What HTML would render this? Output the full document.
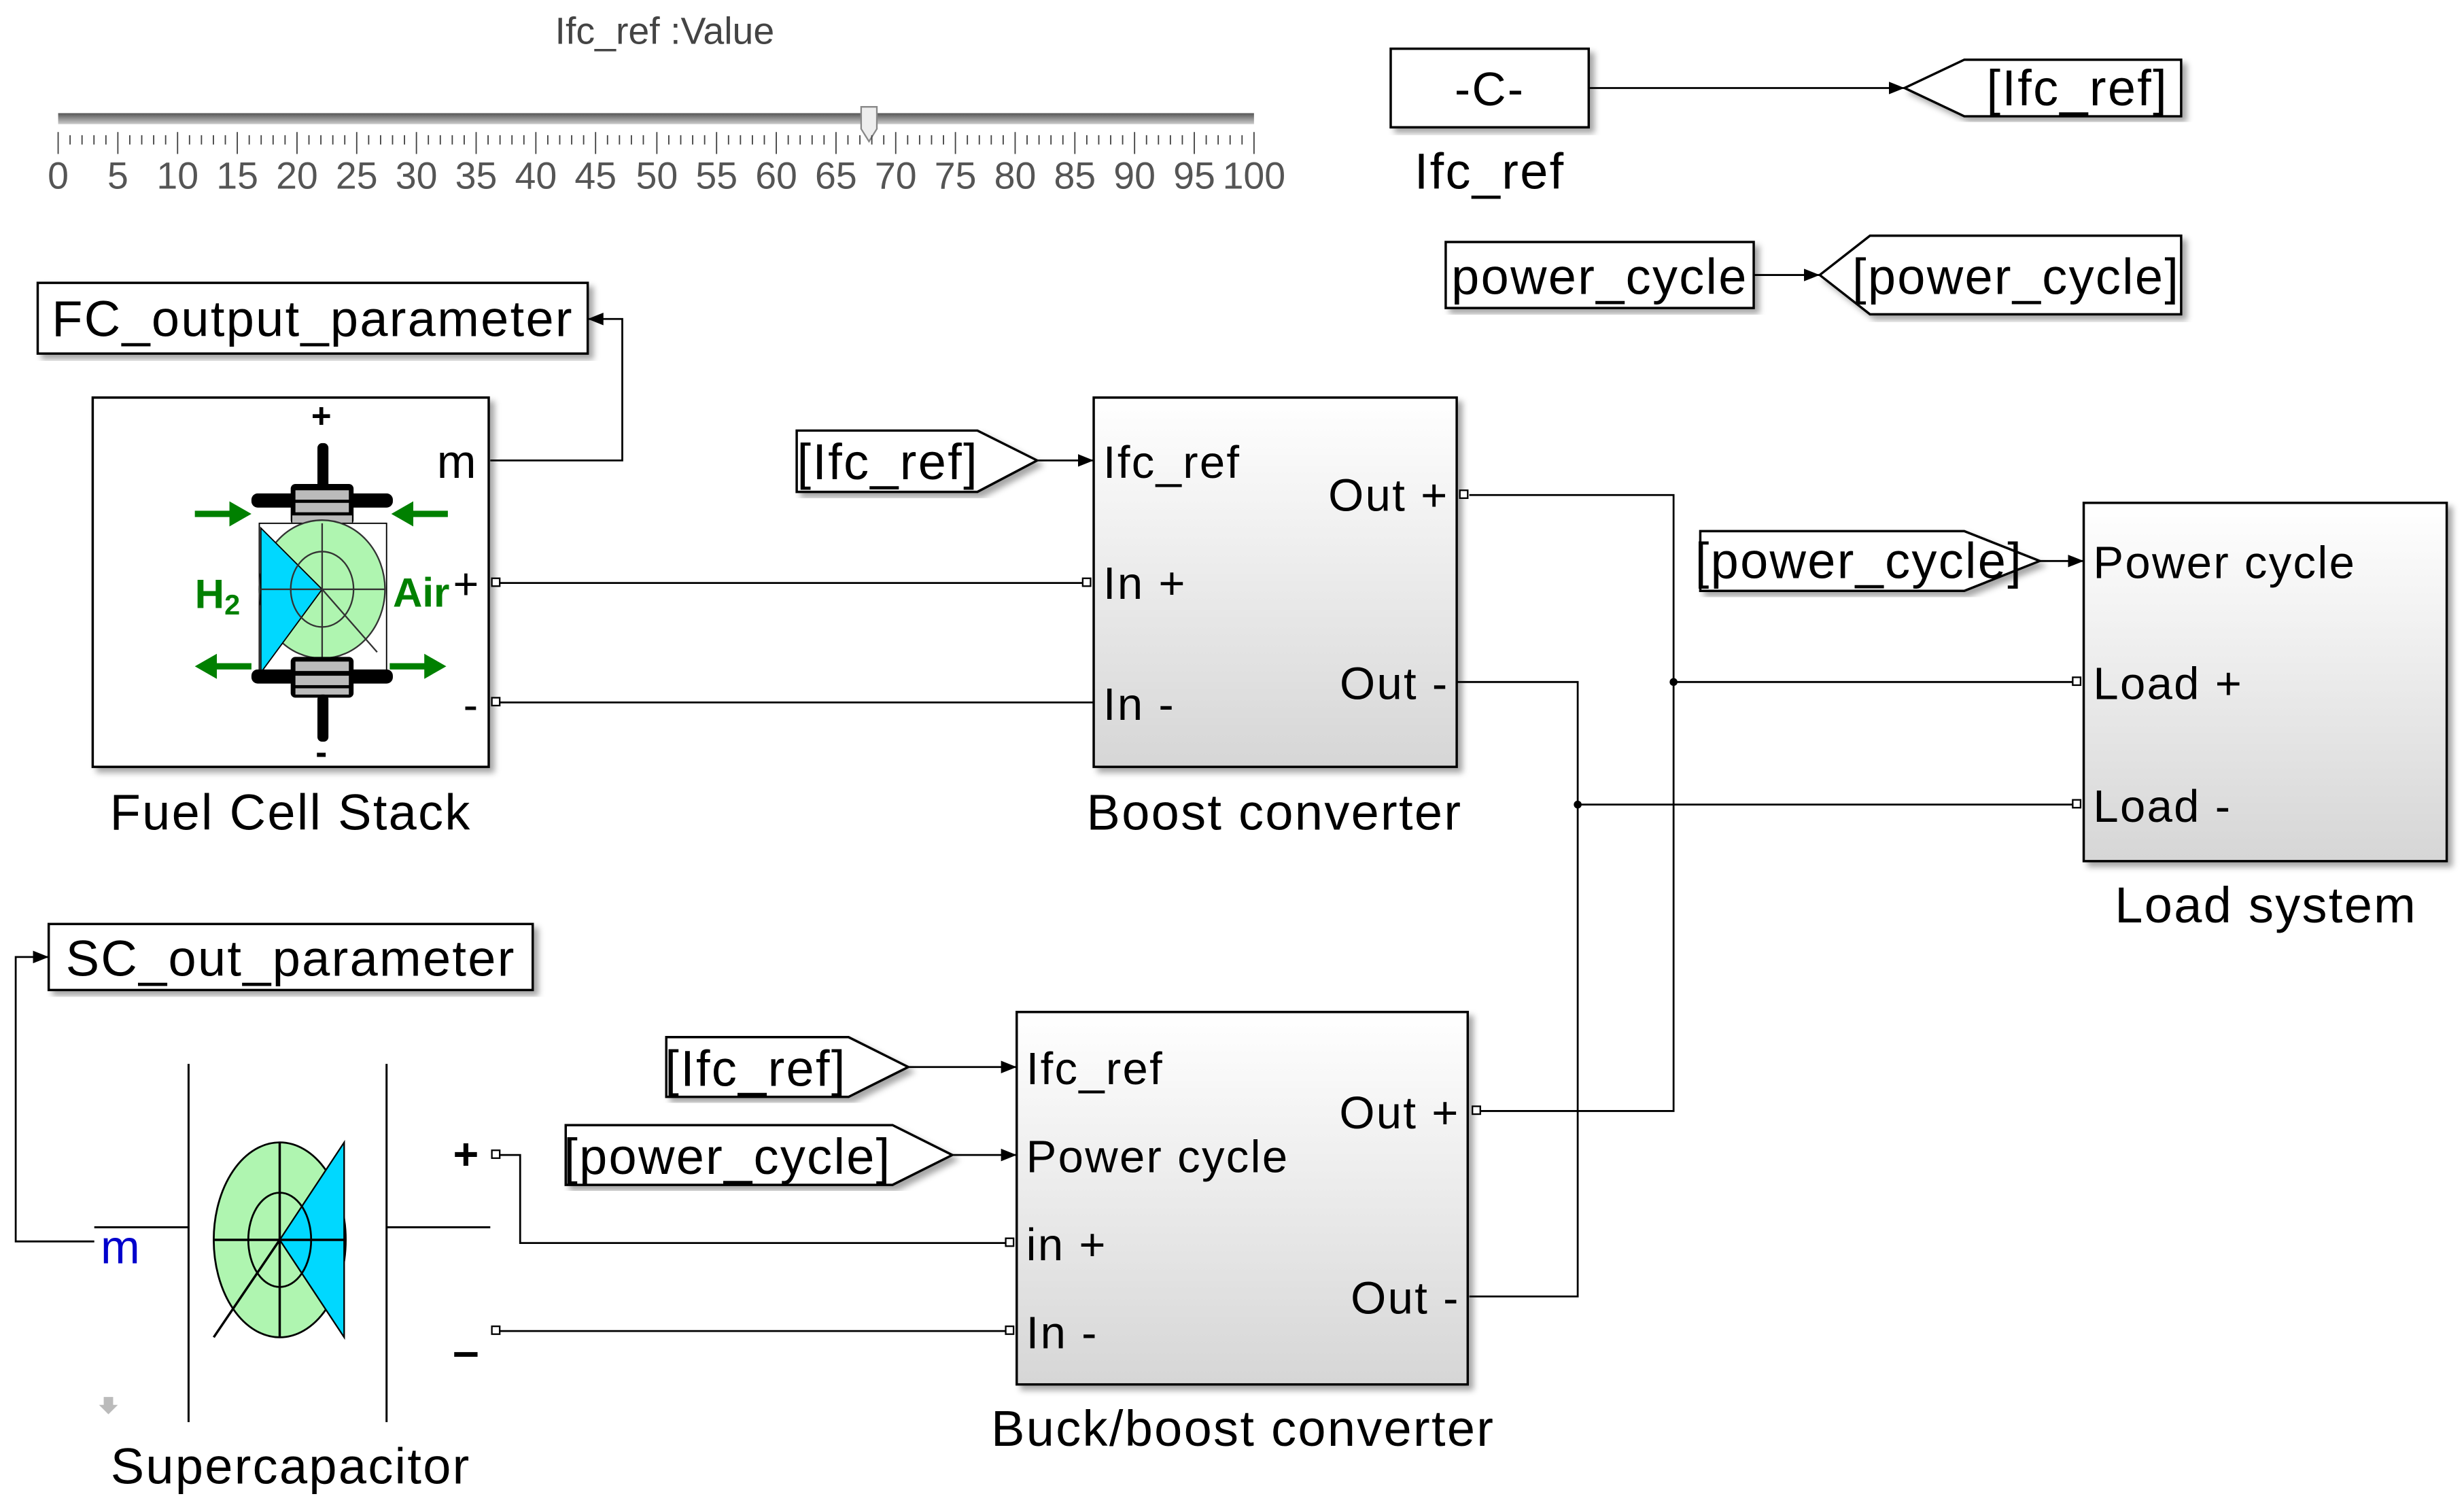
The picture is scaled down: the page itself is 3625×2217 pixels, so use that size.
<!DOCTYPE html>
<html><head><meta charset="utf-8"><style>
html,body{margin:0;padding:0;background:#fff;}
svg{display:block;}
text{font-family:"Liberation Sans",sans-serif;fill:#000;letter-spacing:1px;}
</style></head><body>
<svg width="3625" height="2217" viewBox="0 0 1568 959" preserveAspectRatio="none" xmlns="http://www.w3.org/2000/svg">
<defs>
<linearGradient id="bg" x1="0" y1="0" x2="0" y2="1"><stop offset="0" stop-color="#ffffff"/><stop offset="1" stop-color="#d6d6d6"/></linearGradient>
<linearGradient id="tr" x1="0" y1="0" x2="0" y2="1"><stop offset="0" stop-color="#555"/><stop offset="1" stop-color="#ccc"/></linearGradient>
<marker id="ar" markerWidth="10" markerHeight="8" refX="10" refY="4" orient="auto" markerUnits="userSpaceOnUse"><path d="M0,0 L10,4 L0,8 z" fill="#000"/></marker>
<filter id="sh" x="-5%" y="-5%" width="115%" height="115%"><feDropShadow dx="3" dy="3" stdDeviation="2" flood-color="#000" flood-opacity="0.35"/></filter>
</defs>

<!-- slider -->
<text x="423" y="28" font-size="24" text-anchor="middle" style="fill:#444;letter-spacing:0">Ifc_ref :Value</text>
<rect x="37" y="72" width="761" height="7" fill="url(#tr)"/>
<path d="M548,68 h10 v14 l-5,8 l-5,-8 z" fill="#eee" stroke="#888" stroke-width="1"/>

<!-- -C- -->
<rect x="885" y="31" width="126" height="50" fill="#fff" stroke="#000" stroke-width="1.5" filter="url(#sh)"/>
<text x="948" y="67" font-size="30" text-anchor="middle">-C-</text>
<text x="948" y="120" font-size="32" text-anchor="middle">Ifc_ref</text>
<path d="M1011,56 H1212" stroke="#000" stroke-width="1.2" marker-end="url(#ar)"/>
<path d="M1212,56 L1250,38 H1388 V74 H1250 Z" fill="#fff" stroke="#000" stroke-width="1.5" filter="url(#sh)"/>
<text x="1322" y="67" font-size="32" text-anchor="middle">[Ifc_ref]</text>

<rect x="920" y="154" width="196" height="42" fill="#fff" stroke="#000" stroke-width="1.5" filter="url(#sh)"/>
<text x="1018" y="187" font-size="32" text-anchor="middle">power_cycle</text>
<path d="M1116,175 H1158" stroke="#000" stroke-width="1.2" marker-end="url(#ar)"/>
<path d="M1158,175 L1190,150 H1388 V200 H1190 Z" fill="#fff" stroke="#000" stroke-width="1.5" filter="url(#sh)"/>
<text x="1283" y="187" font-size="32" text-anchor="middle">[power_cycle]</text>

<!-- FC output -->
<rect x="24" y="180" width="350" height="45" fill="#fff" stroke="#000" stroke-width="1.5" filter="url(#sh)"/>
<text x="199" y="214" font-size="32" text-anchor="middle">FC_output_parameter</text>
<path d="M312,293 H396 V203 H374" fill="none" stroke="#000" stroke-width="1.2" marker-end="url(#ar)"/>

<!-- Fuel cell -->
<rect x="59" y="253" width="252" height="235" fill="#fff" stroke="#000" stroke-width="1.5" filter="url(#sh)"/>
<text x="205" y="272" font-size="22" text-anchor="middle" font-weight="bold">+</text>
<text x="291" y="304" font-size="30" text-anchor="middle">m</text>
<text x="297" y="381" font-size="28" text-anchor="middle">+</text>
<text x="300" y="458" font-size="28" text-anchor="middle">-</text>
<text x="205" y="486" font-size="22" text-anchor="middle" font-weight="bold">-</text>
<g>
<rect x="202" y="282" width="7" height="30" rx="3" fill="#000"/>
<rect x="185" y="308" width="40" height="26" rx="3" fill="#000"/>
<rect x="160" y="314" width="90" height="9" rx="4" fill="#000"/>
<rect x="188" y="312" width="34" height="6" fill="#bbb"/><rect x="188" y="320" width="34" height="6" fill="#bbb"/><rect x="186" y="328" width="38" height="6" fill="#bbb"/>
<rect x="165" y="333" width="81" height="99" fill="#fff" stroke="#000" stroke-width="0.8"/>
<ellipse cx="205" cy="375" rx="40" ry="44" fill="#aff5b0" stroke="#333"/>
<path d="M166,336 L205,375 L166,428 Z" fill="#00d8ff" stroke="#000" stroke-width="0.8"/>
<ellipse cx="205" cy="375" rx="20" ry="24" fill="none" stroke="#333"/>
<path d="M166,375 H245 M205,333 V432 M205,375 L240,415" stroke="#333" stroke-width="1"/>
<rect x="185" y="418" width="40" height="26" rx="3" fill="#000"/>
<rect x="160" y="426" width="90" height="9" rx="4" fill="#000"/>
<rect x="188" y="421" width="34" height="6" fill="#bbb"/><rect x="188" y="430" width="34" height="6" fill="#bbb"/><rect x="188" y="438" width="34" height="4" fill="#bbb"/>
<rect x="202" y="442" width="7" height="30" rx="3" fill="#000"/>
<g fill="#008000">
<path d="M124,325 h22 v-6 l14,8 l-14,8 v-6 h-22z"/>
<path d="M285,325 h-22 v-6 l-14,8 l14,8 v-6 h22z"/>
<path d="M160,422 h-22 v-6 l-14,8 l14,8 v-6 h22z"/>
<path d="M248,422 h22 v-6 l14,8 l-14,8 v-6 h-22z"/>
</g>
<text x="124" y="387" font-size="26" font-weight="bold" style="fill:#008000;letter-spacing:0">H<tspan font-size="18" dy="4">2</tspan></text>
<text x="250" y="386" font-size="26" font-weight="bold" style="fill:#008000;letter-spacing:0">Air</text>
</g>
<text x="185" y="528" font-size="32" text-anchor="middle">Fuel Cell Stack</text>
<rect x="313" y="368" width="5" height="5" fill="#fff" stroke="#000"/>
<rect x="313" y="444" width="5" height="5" fill="#fff" stroke="#000"/>

<!-- Boost -->
<path d="M507,274 H622 L660,293 L622,313 H507 Z" fill="#fff" stroke="#000" stroke-width="1.5" filter="url(#sh)"/>
<text x="565" y="305" font-size="32" text-anchor="middle">[Ifc_ref]</text>
<path d="M660,293 H696" stroke="#000" stroke-width="1.2" marker-end="url(#ar)"/>
<rect x="696" y="253" width="231" height="235" fill="url(#bg)" stroke="#000" stroke-width="1.5" filter="url(#sh)"/>
<g font-size="29">
<text x="702" y="304">Ifc_ref</text><text x="702" y="381">In +</text><text x="702" y="458">In -</text>
<text x="922" y="325" text-anchor="end">Out +</text><text x="922" y="445" text-anchor="end">Out -</text>
</g>
<text x="811" y="528" font-size="32" text-anchor="middle">Boost converter</text>
<path d="M318,371 H690 M318,447 H696" stroke="#000" stroke-width="1.2"/>
<rect x="689" y="368" width="5" height="5" fill="#fff" stroke="#000"/>
<path d="M935,315 H1065 V707 H942 M927,434 H1004 V825 H935 M1065,434 H1320 M1004,512 H1320" fill="none" stroke="#000" stroke-width="1.2"/>
<circle cx="1065" cy="434" r="2.5"/><circle cx="1004" cy="512" r="2.5"/>
<rect x="929" y="312" width="5" height="5" fill="#fff" stroke="#000"/>

<!-- Load system -->
<path d="M1082,338 H1250 L1298,357 L1250,376 H1082 Z" fill="#fff" stroke="#000" stroke-width="1.5" filter="url(#sh)"/>
<text x="1183" y="368" font-size="32" text-anchor="middle">[power_cycle]</text>
<path d="M1298,357 H1326" stroke="#000" stroke-width="1.2" marker-end="url(#ar)"/>
<rect x="1326" y="320" width="231" height="228" fill="url(#bg)" stroke="#000" stroke-width="1.5" filter="url(#sh)"/>
<g font-size="29"><text x="1332" y="368">Power cycle</text><text x="1332" y="445">Load +</text><text x="1332" y="523">Load -</text></g>
<rect x="1319" y="431" width="5" height="5" fill="#fff" stroke="#000"/>
<rect x="1319" y="509" width="5" height="5" fill="#fff" stroke="#000"/>
<text x="1442" y="587" font-size="32" text-anchor="middle">Load system</text>

<!-- SC out -->
<rect x="31" y="588" width="308" height="42" fill="#fff" stroke="#000" stroke-width="1.5" filter="url(#sh)"/>
<text x="185" y="621" font-size="32" text-anchor="middle">SC_out_parameter</text>
<path d="M60,790 H10 V609 H31" fill="none" stroke="#000" stroke-width="1.2" marker-end="url(#ar)"/>

<!-- Supercap -->
<path d="M120,677 V905 M246,677 V905 M60,781 H120 M246,781 H312" stroke="#000" stroke-width="1.3"/>
<text x="77" y="804" font-size="30" text-anchor="middle" style="fill:#0000cc">m</text>
<ellipse cx="178" cy="789" rx="42" ry="62" fill="#aff5b0" stroke="#000" stroke-width="1.2"/>
<path d="M178,789 L219,727 V851 Z" fill="#00d8ff" stroke="#000" stroke-width="1"/>
<ellipse cx="178" cy="789" rx="20" ry="30" fill="none" stroke="#000" stroke-width="1.2"/>
<path d="M136,789 H219 M178,727 V851 M178,789 L136,851" stroke="#000" stroke-width="1.5"/>
<text x="297" y="744" font-size="28" text-anchor="middle" font-weight="bold">+</text>
<text x="297" y="870" font-size="30" text-anchor="middle" font-weight="bold">–</text>
<path d="M66,889 h6 v5 h3 l-6,6 l-6,-6 h3z" fill="#bbb"/>
<text x="185" y="944" font-size="32" text-anchor="middle">Supercapacitor</text>
<path d="M318,735 H331 V791 H641 M318,847 H641" fill="none" stroke="#000" stroke-width="1.2"/>
<rect x="313" y="732" width="5" height="5" fill="#fff" stroke="#000"/>
<rect x="313" y="844" width="5" height="5" fill="#fff" stroke="#000"/>

<!-- Buck -->
<path d="M424,660 H540 L578,679 L540,698 H424 Z" fill="#fff" stroke="#000" stroke-width="1.5" filter="url(#sh)"/>
<text x="481" y="691" font-size="32" text-anchor="middle">[Ifc_ref]</text>
<path d="M578,679 H647" stroke="#000" stroke-width="1.2" marker-end="url(#ar)"/>
<path d="M360,716 H568 L606,735 L568,754 H360 Z" fill="#fff" stroke="#000" stroke-width="1.5" filter="url(#sh)"/>
<text x="463" y="747" font-size="32" text-anchor="middle">[power_cycle]</text>
<path d="M606,735 H647" stroke="#000" stroke-width="1.2" marker-end="url(#ar)"/>
<rect x="647" y="644" width="287" height="237" fill="url(#bg)" stroke="#000" stroke-width="1.5" filter="url(#sh)"/>
<g font-size="29">
<text x="653" y="690">Ifc_ref</text><text x="653" y="746">Power cycle</text><text x="653" y="802">in +</text><text x="653" y="858">In -</text>
<text x="929" y="718" text-anchor="end">Out +</text><text x="929" y="836" text-anchor="end">Out -</text>
</g>
<rect x="640" y="788" width="5" height="5" fill="#fff" stroke="#000"/>
<rect x="640" y="844" width="5" height="5" fill="#fff" stroke="#000"/>
<rect x="937" y="704" width="5" height="5" fill="#fff" stroke="#000"/>
<text x="791" y="920" font-size="32" text-anchor="middle">Buck/boost converter</text>

<!-- slider ticks & labels -->
<g stroke="#444" stroke-width="0.8">
<path d="M37,84V98 M75,84V98 M113,84V98 M151,84V98 M189,84V98 M227,84V98 M265,84V98 M303,84V98 M341,84V98 M379,84V98 M418,84V98 M456,84V98 M494,84V98 M532,84V98 M570,84V98 M608,84V98 M646,84V98 M684,84V98 M722,84V98 M760,84V98 M798,84V98"/>
<path d="M44.6,86V92 M52.2,86V92 M59.8,86V92 M67.4,86V92 M82.6,86V92 M90.2,86V92 M97.8,86V92 M105.4,86V92 M120.6,86V92 M128.2,86V92 M135.8,86V92 M143.4,86V92 M158.6,86V92 M166.2,86V92 M173.8,86V92 M181.4,86V92 M196.6,86V92 M204.2,86V92 M211.8,86V92 M219.4,86V92 M234.6,86V92 M242.2,86V92 M249.8,86V92 M257.4,86V92 M272.6,86V92 M280.2,86V92 M287.8,86V92 M295.4,86V92 M310.6,86V92 M318.2,86V92 M325.8,86V92 M333.4,86V92 M348.6,86V92 M356.2,86V92 M363.8,86V92 M371.4,86V92 M386.6,86V92 M394.2,86V92 M401.8,86V92 M409.4,86V92 M425.6,86V92 M433.2,86V92 M440.8,86V92 M448.4,86V92 M463.6,86V92 M471.2,86V92 M478.8,86V92 M486.4,86V92 M501.6,86V92 M509.2,86V92 M516.8,86V92 M524.4,86V92 M539.6,86V92 M547.2,86V92 M554.8,86V92 M562.4,86V92 M577.6,86V92 M585.2,86V92 M592.8,86V92 M600.4,86V92 M615.6,86V92 M623.2,86V92 M630.8,86V92 M638.4,86V92 M653.6,86V92 M661.2,86V92 M668.8,86V92 M676.4,86V92 M691.6,86V92 M699.2,86V92 M706.8,86V92 M714.4,86V92 M729.6,86V92 M737.2,86V92 M744.8,86V92 M752.4,86V92 M767.6,86V92 M775.2,86V92 M782.8,86V92 M790.4,86V92"/>
</g>
<g font-size="24" text-anchor="middle" style="fill:#555">
<text x="37" y="120" style="fill:#555;letter-spacing:0">0</text><text x="75" y="120" style="fill:#555;letter-spacing:0">5</text><text x="113" y="120" style="fill:#555;letter-spacing:0">10</text><text x="151" y="120" style="fill:#555;letter-spacing:0">15</text><text x="189" y="120" style="fill:#555;letter-spacing:0">20</text><text x="227" y="120" style="fill:#555;letter-spacing:0">25</text><text x="265" y="120" style="fill:#555;letter-spacing:0">30</text><text x="303" y="120" style="fill:#555;letter-spacing:0">35</text><text x="341" y="120" style="fill:#555;letter-spacing:0">40</text><text x="379" y="120" style="fill:#555;letter-spacing:0">45</text><text x="418" y="120" style="fill:#555;letter-spacing:0">50</text><text x="456" y="120" style="fill:#555;letter-spacing:0">55</text><text x="494" y="120" style="fill:#555;letter-spacing:0">60</text><text x="532" y="120" style="fill:#555;letter-spacing:0">65</text><text x="570" y="120" style="fill:#555;letter-spacing:0">70</text><text x="608" y="120" style="fill:#555;letter-spacing:0">75</text><text x="646" y="120" style="fill:#555;letter-spacing:0">80</text><text x="684" y="120" style="fill:#555;letter-spacing:0">85</text><text x="722" y="120" style="fill:#555;letter-spacing:0">90</text><text x="760" y="120" style="fill:#555;letter-spacing:0">95</text><text x="798" y="120" style="fill:#555;letter-spacing:0">100</text>
</g>
</svg>
</body></html>
